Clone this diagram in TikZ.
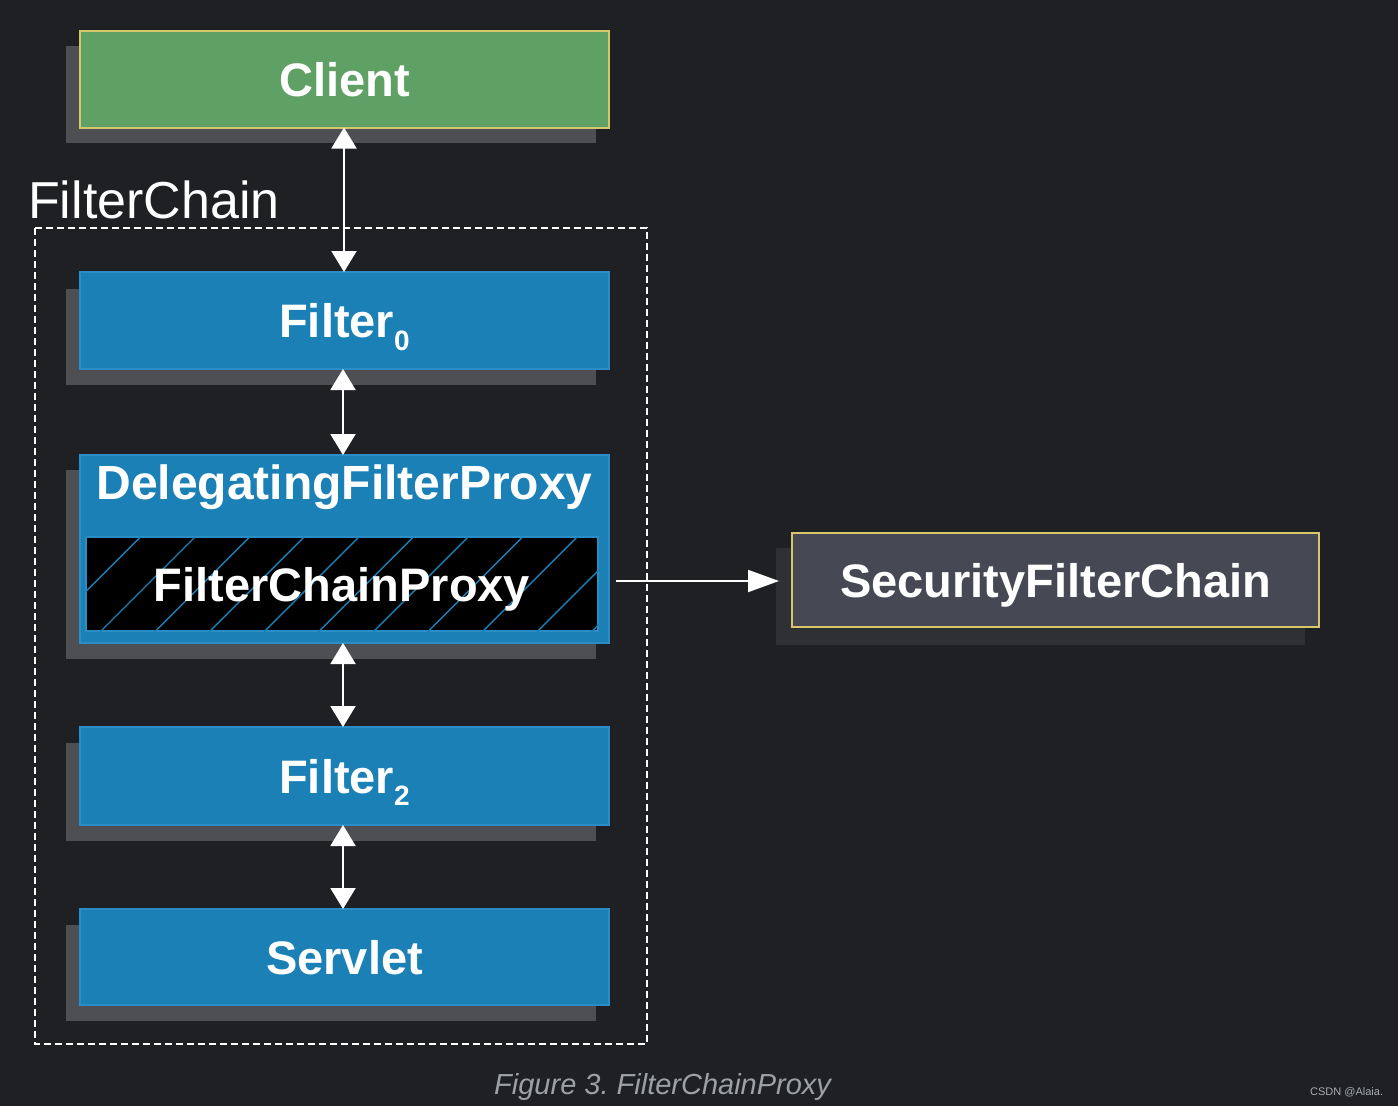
\documentclass[tikz,border=0pt]{standalone}
\usepackage{fontspec}
\setmainfont{Liberation Sans}
\usetikzlibrary{arrows.meta}
\definecolor{bgc}{HTML}{1E2024}
\definecolor{greenc}{HTML}{5FA064}
\definecolor{yellowc}{HTML}{D4C86A}
\definecolor{bluec}{HTML}{1B80B6}
\definecolor{blueb}{HTML}{2A8DC5}
\definecolor{shadc}{HTML}{4E4F52}
\definecolor{sfcfill}{HTML}{464954}
\definecolor{sfcshad}{HTML}{2F3033}
\definecolor{capc}{HTML}{9DA0A5}
\tikzset{
  box/.style={minimum width=529pt, minimum height=97pt, inner sep=0pt, outer sep=0pt,
    text=white, font=\fontsize{47}{50}\selectfont\bfseries, text depth=0pt, text height=34pt},
  bluebox/.style={box, fill=bluec, draw=blueb, line width=1.5pt},
  shadowfill/.style={fill=shadc},
  dbl/.style={draw=white, line width=2pt, {Triangle[width=25pt,length=21pt]}-{Triangle[width=25pt,length=21pt]}},
  sgl/.style={draw=white, line width=2pt, -{Triangle[width=22pt,length=31pt]}},
}
\newcommand{\subtxt}[1]{\raisebox{-0.27em}{\fontsize{28}{28}\selectfont #1}}
\frenchspacing
\begin{document}
\begin{tikzpicture}[x=1pt,y=-1pt]
\fill[bgc] (0,0) rectangle (1398,1106);
\useasboundingbox (0,0) rectangle (1398,1106);

% shadows
\fill[shadowfill] (66,46) rectangle (596,143);
\fill[shadowfill] (66,289) rectangle (596,385);
\fill[shadowfill] (66,470) rectangle (596,659);
\fill[shadowfill] (66,743) rectangle (596,841);
\fill[shadowfill] (66,925) rectangle (596,1021);
\fill[sfcshad] (776,548) rectangle (1305,645);

% dashed frame
\draw[white, line width=2.5pt, dash pattern=on 7pt off 4pt] (35,228) rectangle (647,1044);
\node[anchor=base west, inner sep=0pt, text=white, font=\fontsize{52}{55}\selectfont] (fcl) at (28,218) {FilterChain};

% boxes
\node[box, fill=greenc, draw=yellowc, line width=2pt] (client) at (344.5,79) {Client};
\node[bluebox] (f0) at (344.5,320.5) {Filter\subtxt{0}};
\node[bluebox, minimum height=188pt] (dfp) at (344.5,549) {};
\node[anchor=base, inner sep=0pt, text=white, font=\fontsize{48}{50}\selectfont\bfseries] (dfpl) at (344.5,499) {DelegatingFilterProxy};
\node[fill=black, draw=blueb, line width=1.5pt, minimum width=512pt, minimum height=94pt, inner sep=0pt] (fcp) at (342,584) {};
\begin{scope}
  \clip (fcp.north west) rectangle (fcp.south east);
  \foreach \k in {-2,...,10} {
    \draw[bluec, line width=1.4pt] ({100+54.6*\k},632) -- ({195+54.6*\k},537);
  }
\end{scope}
\node[anchor=base, inner sep=0pt, text=white, font=\fontsize{47}{50}\selectfont\bfseries] (fcpl) at (342,601) {FilterChainProxy};
\node[bluebox, minimum height=98pt] (f2) at (344.5,776) {Filter\subtxt{2}};
\node[bluebox, minimum height=96pt] (servlet) at (344.5,957) {Servlet};
\node[box, fill=sfcfill, draw=yellowc, line width=2pt, minimum width=527pt, minimum height=94pt] (sfc) at (1055.5,580) {SecurityFilterChain};

% connectors
\draw[dbl] (client.south -| 344,0) -- (f0.north -| 344,0);
\draw[dbl] (f0.south -| 343,0) -- (dfp.north -| 343,0);
\draw[dbl] (dfp.south -| 343,0) -- (f2.north -| 343,0);
\draw[dbl] (f2.south -| 343,0) -- (servlet.north -| 343,0);
\coordinate (hs) at (616,581);
\coordinate (he) at (779,581);
\draw[sgl] (hs) -- (he);

% caption
\node[anchor=base west, inner sep=0pt, text=capc, font=\fontsize{29}{32}\selectfont\itshape] (cap) at (494,1094) {Figure 3. FilterChainProxy};
\node[anchor=base west, inner sep=0pt, text=capc!90!white, font=\fontsize{11}{13}\selectfont] (wm) at (1310,1095) {CSDN @Alaia.};
\end{tikzpicture}
\end{document}
